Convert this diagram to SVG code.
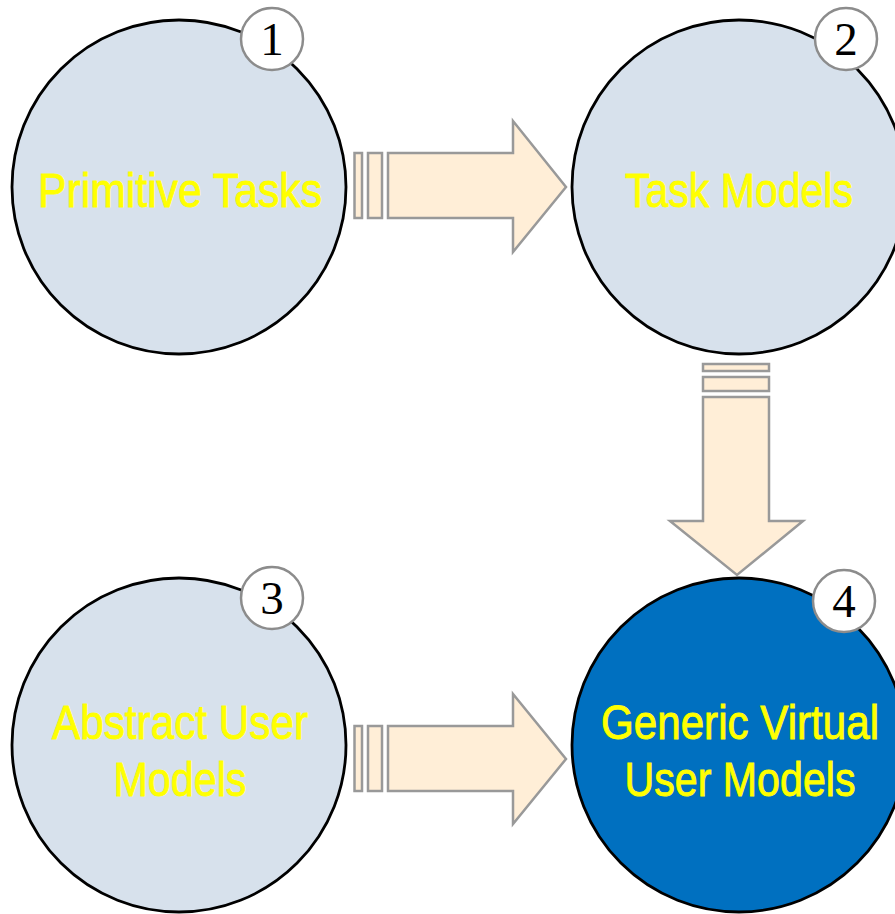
<svg xmlns="http://www.w3.org/2000/svg" width="895" height="914" viewBox="0 0 895 914">
<style>
.big{fill:#D7E1EC;stroke:#000;stroke-width:2.8}
.dark{fill:#0070C0;stroke:#000;stroke-width:2.8}
.num{fill:#fff;stroke:#8C8C8C;stroke-width:2.5}
.numt{font-family:"Liberation Serif","Times New Roman",serif;font-size:47px;fill:#000;text-anchor:middle}
.lbl{font-family:"Liberation Sans Narrow","Liberation Sans",Arial,sans-serif;font-size:48px;fill:#FFFF00;stroke:#FFFF00;stroke-width:0.9;text-anchor:middle}
.arr{fill:#FFEED7;stroke:#999;stroke-width:2.5}
</style>
<rect width="895" height="914" fill="#fff"/>
<g id="connectors">
<g id="arrow1">
<rect class="arr" x="354.5" y="153" width="7.5" height="65"/>
<rect class="arr" x="368" y="153" width="14" height="65"/>
<path class="arr" d="M388,153 H513 V121 L566,187 L513,252 V218 H388 Z"/>
</g>
<g id="arrow2">
<rect class="arr" x="703" y="364" width="66" height="7"/>
<rect class="arr" x="703" y="377" width="66" height="14"/>
<path class="arr" d="M703,397 H769 V521 H803 L737,575 L670,521 H703 Z"/>
</g>
<g id="arrow3">
<rect class="arr" x="354.5" y="726" width="7.5" height="65"/>
<rect class="arr" x="368" y="726" width="14" height="65"/>
<path class="arr" d="M388,726 H513 V694 L566,759 L513,824 V791 H388 Z"/>
</g>
</g>
<g id="node1">
<circle class="big" cx="179" cy="187" r="167"/>
<text class="lbl" x="180" y="207" textLength="284" lengthAdjust="spacingAndGlyphs">Primitive Tasks</text>
<circle class="num" cx="272" cy="39" r="31"/>
<text class="numt" x="272" y="55">1</text>
</g>
<g id="node2">
<circle class="big" cx="739" cy="187" r="167"/>
<text class="lbl" x="739" y="207" textLength="228" lengthAdjust="spacingAndGlyphs">Task Models</text>
<circle class="num" cx="846" cy="39" r="31"/>
<text class="numt" x="846" y="55">2</text>
</g>
<g id="node3">
<circle class="big" cx="179" cy="745" r="167"/>
<text class="lbl" x="180" y="739" textLength="256" lengthAdjust="spacingAndGlyphs">Abstract User</text>
<text class="lbl" x="180" y="796" textLength="133" lengthAdjust="spacingAndGlyphs">Models</text>
<circle class="num" cx="272" cy="598" r="31"/>
<text class="numt" x="272" y="614">3</text>
</g>
<g id="node4">
<circle class="dark" cx="739" cy="745" r="167"/>
<text class="lbl" x="740" y="739" textLength="278" lengthAdjust="spacingAndGlyphs">Generic Virtual</text>
<text class="lbl" x="740" y="796" textLength="231" lengthAdjust="spacingAndGlyphs">User Models</text>
<circle class="num" cx="844" cy="601" r="31"/>
<text class="numt" x="844" y="617">4</text>
</g>
</svg>
